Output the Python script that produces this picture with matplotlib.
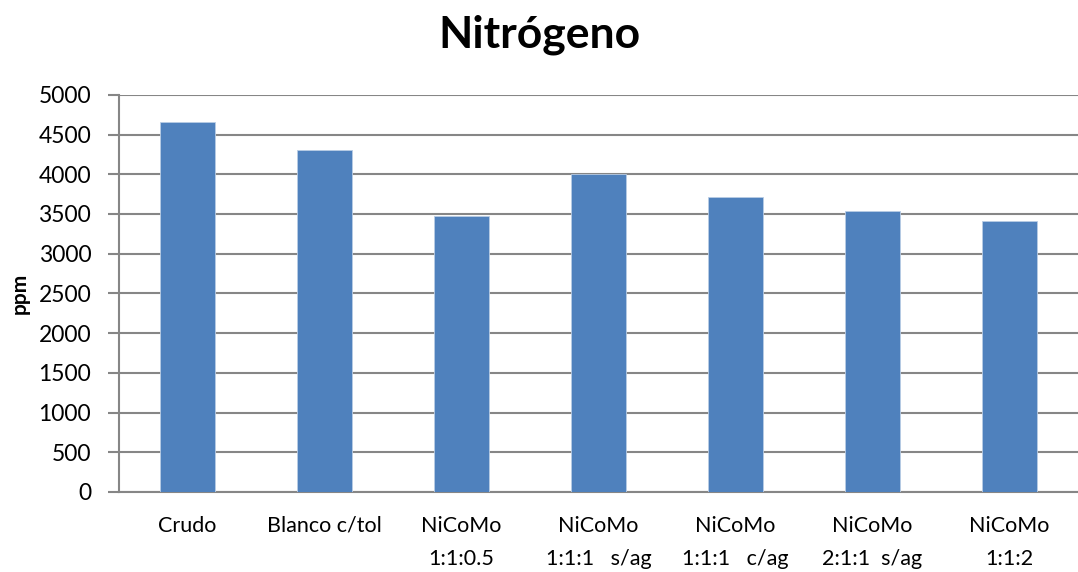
import matplotlib
matplotlib.use("Agg")
import matplotlib.pyplot as plt
import numpy as np

# data
categories = ['Crudo', 'Blanco c/tol', 'NiCoMo\n1:1:0.5', 'NiCoMo\n1:1:1   s/ag',
              'NiCoMo\n1:1:1   c/ag', 'NiCoMo\n2:1:1  s/ag', 'NiCoMo\n1:1:2']
nitrogen_ppm = [4660, 4305, 3480, 4005, 3715, 3540, 3415]
y_ticks = [0, 500, 1000, 1500, 2000, 2500, 3000, 3500, 4000, 4500, 5000]

plt.rcParams['font.family'] = ['Lato', 'DejaVu Sans']

fig = plt.figure(figsize=(10.78, 5.72), dpi=100)
ax = fig.add_axes([0.1104, 0.1399, 0.8896, 0.6944])

x = np.arange(len(categories))
ax.bar(x, nitrogen_ppm, width=0.4, color='#4F81BD', edgecolor='#B9CDE5', linewidth=0.6, zorder=3)

ax.set_xlim(-0.5, len(categories) - 0.5)
ax.set_ylim(0, 5000)
ax.set_yticks(y_ticks)
ax.set_xticks(x)
ax.set_xticklabels(categories, fontsize=15.5, linespacing=1.85)
ax.tick_params(axis='y', labelsize=16.5, length=8, width=1.5, color='#868686', pad=12)
ax.tick_params(axis='x', length=0, pad=17)

ax.grid(axis='y', color='#868686', linewidth=1.5, zorder=0)
ax.set_axisbelow(True)
for side in ['top', 'right']:
    ax.spines[side].set_visible(False)
for side in ['left', 'bottom']:
    ax.spines[side].set_color('#868686')
    ax.spines[side].set_linewidth(1.5)

ax.set_ylabel('ppm', fontsize=15, fontweight='bold', labelpad=6)
fig.suptitle('Nitrógeno', fontsize=32, fontweight='bold', y=0.975)

fig.savefig('out.png', dpi=100)
